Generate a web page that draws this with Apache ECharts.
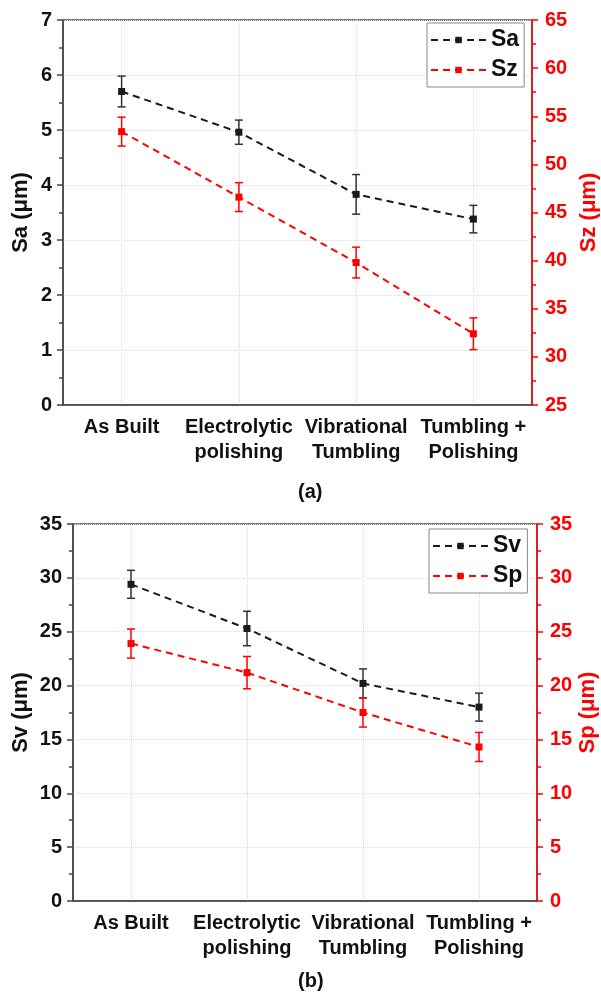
<!DOCTYPE html>
<html>
<head>
<meta charset="utf-8">
<script src="https://cdn.jsdelivr.net/npm/echarts@6/dist/echarts.min.js"></script>
<style>
  html, body { margin: 0; padding: 0; background: #fff; }
  #chart { width: 601px; height: 994px; }
</style>
</head>
<body>
<div id="chart"></div>
<script>
// categories on both panels
var categories = ["As Built", "Electrolytic\npolishing", "Vibrational\nTumbling", "Tumbling +\nPolishing"];

// panel (a)
var saValues = [5.70, 4.96, 3.83, 3.38];
var saErr = [0.28, 0.22, 0.36, 0.25];
var szValues = [53.4, 46.6, 39.8, 32.4];
var szErr = [1.5, 1.5, 1.6, 1.65];

// panel (b)
var svValues = [29.4, 25.3, 20.2, 18.0];
var svErr = [1.3, 1.6, 1.35, 1.3];
var spValues = [23.9, 21.2, 17.5, 14.3];
var spErr = [1.35, 1.5, 1.35, 1.35];

var FONT = "Liberation Sans";
var RED = "#ff0000";
var DARK = "#1a1a1a";

//[index, low, high] rows for the error bars
function errRows(vals, errs) {
  return vals.map(function (v, i) {
    return [i, v - errs[i], v + errs[i]];
  });
}

function renderErr(params, api) {
  var x = api.value(0);
  var lo = api.coord([x, api.value(1)]);
  var hi = api.coord([x, api.value(2)]);
  var w = 4;
  var st = { stroke: api.visual("color"), lineWidth: 1.5 };
  return {
    type: "group",
    children: [
      { type: "line", shape: { x1: lo[0], y1: lo[1], x2: hi[0], y2: hi[1] }, style: st },
      { type: "line", shape: { x1: lo[0] - w, y1: lo[1], x2: lo[0] + w, y2: lo[1] }, style: st },
      { type: "line", shape: { x1: hi[0] - w, y1: hi[1], x2: hi[0] + w, y2: hi[1] }, style: st },
    ],
  };
}

function xAxisFor(gi) {
  return {
    type: "category",
    gridIndex: gi,
    data: categories,
    boundaryGap: true,
    axisLine: { lineStyle: { color: "#444", width: 1.5 } },
    axisTick: { alignWithLabel: true, length: 6, lineStyle: { color: "#444", width: 1.5 } },
    axisLabel: {
      color: "#111",
      fontFamily: FONT,
      fontWeight: "bold",
      fontSize: 20,
      lineHeight: 25,
      margin: 10,
      interval: 0,
    },
    splitLine: {
      show: true,
      alignWithLabel: true,
      lineStyle: { color: "#dcdcdc", type: "dotted", width: 1 },
    },
  };
}

function yAxisFor(gi, pos, name, min, max, interval, color, gap) {
  var isRight = pos === "right";
  return {
    type: "value",
    gridIndex: gi,
    position: pos,
    name: name,
    nameLocation: "middle",
    nameRotate: 90,
    nameGap: gap,
    nameMoveOverlap: false,
    nameTextStyle: { color: color, fontFamily: FONT, fontWeight: "bold", fontSize: 22 },
    min: min,
    max: max,
    interval: interval,
    axisLine: { show: true, lineStyle: { color: isRight ? RED : "#444", width: 1.5 } },
    axisTick: { show: true, length: 6, lineStyle: { color: isRight ? RED : "#444", width: 1.5 } },
    minorTick: { show: true, splitNumber: 2, length: 4, lineStyle: { color: isRight ? RED : "#444", width: 1.5 } },
    axisLabel: {
      color: color,
      fontFamily: FONT,
      fontWeight: "bold",
      fontSize: 20,
      margin: isRight ? 13 : 11,
    },
    splitLine: {
      show: !isRight,
      lineStyle: { color: "#dcdcdc", type: "dotted", width: 1 },
    },
  };
}

function lineSeries(name, vals, xi, yi, color) {
  return {
    name: name,
    type: "line",
    xAxisIndex: xi,
    yAxisIndex: yi,
    data: vals,
    symbol: "rect",
    symbolSize: 7,
    z: 5,
    itemStyle: { color: color },
    lineStyle: { color: color, width: 2, type: [7, 5] },
  };
}

function errSeries(name, vals, errs, xi, yi, color) {
  return {
    name: name + " error",
    type: "custom",
    xAxisIndex: xi,
    yAxisIndex: yi,
    renderItem: renderErr,
    itemStyle: { color: color },
    encode: { x: 0, y: [1, 2] },
    data: errRows(vals, errs),
    z: 3,
  };
}

function legendFor(names, left, top) {
  return {
    data: names,
    orient: "vertical",
    left: left,
    top: top,
    itemWidth: 55,
    itemHeight: 8,
    itemGap: 4,
    padding: [4, 5, 4, 3],
    borderColor: "#888",
    borderWidth: 1,
    backgroundColor: "#fff",
    textStyle: { color: "#111", fontFamily: FONT, fontWeight: "bold", fontSize: 23, lineHeight: 26 },
  };
}

var chart = echarts.init(document.getElementById("chart"), null, { renderer: "canvas" });

chart.setOption({
  animation: false,
  backgroundColor: "#fff",
  title: [
    { text: "(a)", left: 293, top: 477, textStyle: { fontFamily: FONT, fontWeight: "bold", fontSize: 20, color: "#111" } },
    { text: "(b)", left: 293, top: 966, textStyle: { fontFamily: FONT, fontWeight: "bold", fontSize: 20, color: "#111" } },
  ],
  grid: [
    { left: 63, top: 20, width: 469, height: 385, outerBoundsMode: "none", show: true, borderColor: "#555", borderWidth: 1.5 },
    { left: 73, top: 524, width: 464, height: 377, outerBoundsMode: "none", show: true, borderColor: "#555", borderWidth: 1.5 },
  ],
  legend: [legendFor(["Sa", "Sz"], 427, 23), legendFor(["Sv", "Sp"], 429, 529)],
  xAxis: [xAxisFor(0), xAxisFor(1)],
  yAxis: [
    yAxisFor(0, "left", "Sa (\u03bcm)", 0, 7, 1, "#111", 31),
    yAxisFor(0, "right", "Sz (\u03bcm)", 25, 65, 5, RED, 46),
    yAxisFor(1, "left", "Sv (\u03bcm)", 0, 35, 5, "#111", 41),
    yAxisFor(1, "right", "Sp (\u03bcm)", 0, 35, 5, RED, 40),
  ],
  series: [
    errSeries("Sa", saValues, saErr, 0, 0, "#333"),
    errSeries("Sz", szValues, szErr, 0, 1, RED),
    lineSeries("Sa", saValues, 0, 0, DARK),
    lineSeries("Sz", szValues, 0, 1, RED),
    errSeries("Sv", svValues, svErr, 1, 2, "#333"),
    errSeries("Sp", spValues, spErr, 1, 3, RED),
    lineSeries("Sv", svValues, 1, 2, DARK),
    lineSeries("Sp", spValues, 1, 3, RED),
  ],
});
</script>
</body>
</html>
